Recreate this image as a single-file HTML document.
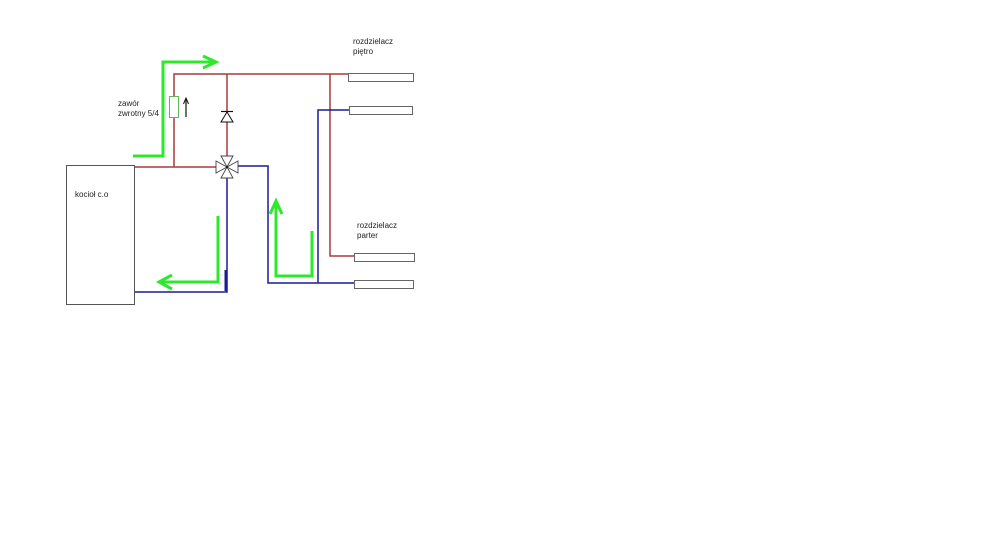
<!DOCTYPE html>
<html><head><meta charset="utf-8"><style>
html,body{margin:0;padding:0;background:#fff;}
svg{display:block;}
text{font-family:"Liberation Sans",sans-serif;font-size:8px;fill:#222;}
</style></head><body>
<svg width="1000" height="536" viewBox="0 0 1000 536" xmlns="http://www.w3.org/2000/svg">
<rect width="1000" height="536" fill="#fff"/>
<!-- boiler -->
<rect x="66.5" y="165.5" width="68" height="139" fill="#fff" stroke="#555" stroke-width="1"/>
<text x="75" y="197">kocioł c.o</text>
<!-- red pipes -->
<g stroke="#a83a3a" stroke-width="1.5" fill="none">
<polyline points="135,167 220,167"/>
<polyline points="174,167 174,74 348,74"/>
<line x1="227" y1="74" x2="227" y2="158"/>
<polyline points="330,74 330,256 355,256"/>
</g>
<!-- blue pipes -->
<g stroke="#1c1c96" stroke-width="1.5" fill="none">
<polyline points="227,176 227,292 135,292"/>
<polyline points="236,166 268,166 268,283 355,283"/>
<polyline points="318,283 318,110 349,110"/>
</g>
<line x1="225.5" y1="270" x2="225.5" y2="291" stroke="#1c1c96" stroke-width="2"/>
<!-- check valve -->
<rect x="169.5" y="96.5" width="9" height="21" fill="#fff" stroke="#5cb85c" stroke-width="1"/>
<line x1="186" y1="117" x2="186" y2="99" stroke="#111" stroke-width="1.2"/>
<polyline points="183.5,104 186,98 188.5,104" fill="none" stroke="#111" stroke-width="1"/>
<!-- diode -->
<polygon points="221,122 233,122 227,112" fill="#fff" stroke="#111" stroke-width="1"/>
<line x1="221" y1="111.5" x2="233" y2="111.5" stroke="#111" stroke-width="1.2"/>
<!-- 3-way valve -->
<g stroke="#444" stroke-width="0.9" fill="#fff">
<polygon points="227,167 216,161 216,173"/>
<polygon points="227,167 238,161 238,173"/>
<polygon points="227,167 221,156 233,156"/>
<polygon points="227,167 221,178 233,178"/>
</g>
<circle cx="227" cy="167" r="1" fill="#111"/>
<!-- manifolds -->
<g fill="#fff" stroke="#666" stroke-width="1">
<rect x="348.5" y="73.5" width="65" height="8"/>
<rect x="349.5" y="106.5" width="63" height="8"/>
<rect x="354.5" y="253.5" width="60" height="8"/>
<rect x="354.5" y="280.5" width="59" height="8"/>
</g>
<text x="353" y="44">rozdzielacz</text>
<text x="353" y="54">piętro</text>
<text x="357" y="228">rozdzielacz</text>
<text x="357" y="238">parter</text>
<text x="118" y="106">zawór</text>
<text x="118" y="116">zwrotny 5/4</text>
<!-- green arrows -->
<g stroke="#2ee82e" stroke-width="3" fill="none" stroke-linejoin="miter">
<polyline points="133,156 163,156 163,62 215,62"/>
<polyline points="203,56 216,62 203,68"/>
<polyline points="218,216 218,282 159,282"/>
<polyline points="172,275 159,282 172,289"/>
<polyline points="276,201 276,276 312,276 312,231"/>
<polyline points="270,214 276,201 282,214"/>
</g>
</svg>
</body></html>
